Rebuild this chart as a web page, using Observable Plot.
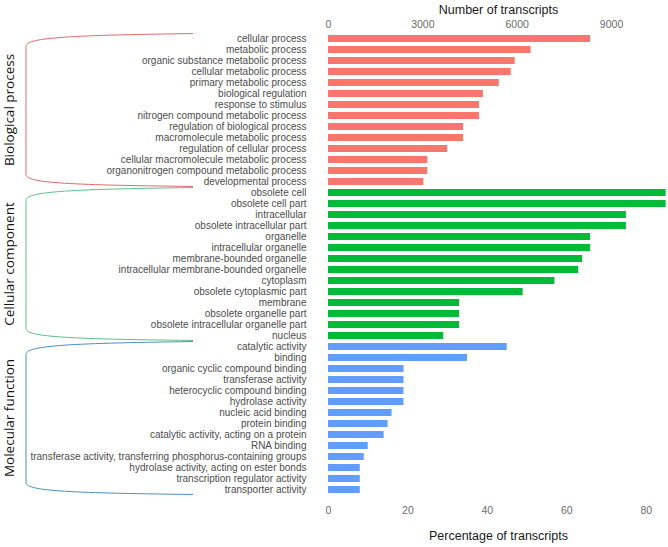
<!DOCTYPE html>
<html>
<head>
<meta charset="utf-8">
<script src="https://cdn.jsdelivr.net/npm/d3@7"></script>
<script src="https://cdn.jsdelivr.net/npm/@observablehq/plot@0.6"></script>
<style>
  html, body { margin: 0; padding: 0; background: #fff; }
</style>
</head>
<body>
<div id="chart"></div>
<script>
// ---- Data ----
const groupNames = ["Biological process", "Cellular component", "Molecular function"];
const groupColors = ["#F8766D", "#00BA38", "#619CFF"];
const bracketColors = ["#e06a6a", "#5cbf8c", "#4a8fc4"];

const bpTerms = ["cellular process", "metabolic process", "organic substance metabolic process",
  "cellular metabolic process", "primary metabolic process", "biological regulation",
  "response to stimulus", "nitrogen compound metabolic process", "regulation of biological process",
  "macromolecule metabolic process", "regulation of cellular process",
  "cellular macromolecule metabolic process", "organonitrogen compound metabolic process",
  "developmental process"];
const bpPct = [66, 51, 47, 46, 43, 39, 38, 38, 34, 34, 30, 25, 25, 24];

const ccTerms = ["obsolete cell", "obsolete cell part", "intracellular", "obsolete intracellular part",
  "organelle", "intracellular organelle", "membrane-bounded organelle",
  "intracellular membrane-bounded organelle", "cytoplasm", "obsolete cytoplasmic part",
  "membrane", "obsolete organelle part", "obsolete intracellular organelle part", "nucleus"];
const ccPct = [85, 85, 75, 75, 66, 66, 64, 63, 57, 49, 33, 33, 33, 29];

const mfTerms = ["catalytic activity", "binding", "organic cyclic compound binding",
  "transferase activity", "heterocyclic compound binding", "hydrolase activity",
  "nucleic acid binding", "protein binding", "catalytic activity, acting on a protein",
  "RNA binding", "transferase activity, transferring phosphorus-containing groups",
  "hydrolase activity, acting on ester bonds", "transcription regulator activity",
  "transporter activity"];
const mfPct = [45, 35, 19, 19, 19, 19, 16, 15, 14, 10, 9, 8, 8, 8];

const pctTicks = [0, 20, 40, 60, 80];
const countTicks = [0, 3000, 6000, 9000];
const totalTranscripts = 12630;

// ---- Build table ----
const groupTerms = [bpTerms, ccTerms, mfTerms];
const groupPct = [bpPct, ccPct, mfPct];
const data = [];
groupTerms.forEach((terms, gi) => terms.forEach((t, i) =>
  data.push({term: t, pct: groupPct[gi][i], group: groupNames[gi]})));
const categories = data.map(d => d.term);

const plot = Plot.plot({
  width: 668,
  height: 547,
  marginTop: 32,
  marginBottom: 50,
  marginLeft: 328,
  marginRight: 0,
  style: {fontFamily: "'Liberation Sans', Arial, sans-serif", fontSize: "10px", background: "#fff"},
  x: {domain: [0, 85.6]},
  y: {domain: categories, paddingInner: 0.33, paddingOuter: 0},
  color: {domain: groupNames, range: groupColors},
  marks: [
    Plot.barX(data, {x: "pct", y: "term", fill: "group"}),
    Plot.axisY({tickSize: 0, tickPadding: 22, fill: "#4d4d4d", label: null, fontSize: 10}),
    Plot.axisX({anchor: "bottom", ticks: pctTicks, tickSize: 0, tickPadding: 9,
      fill: "#6b6b6b", label: null, fontSize: 10.5}),
    Plot.axisX({anchor: "top", ticks: countTicks.map(n => n / totalTranscripts * 100),
      tickFormat: d => String(Math.round(d * totalTranscripts / 100)),
      tickSize: 0, tickPadding: 5, fill: "#6b6b6b", label: null, fontSize: 10.5}),
    Plot.text(["Number of transcripts"], {text: d => d, frameAnchor: "top", dy: -27.5,
      fontSize: 12.5, fill: "#1a1a1a"}),
    Plot.text(["Percentage of transcripts"], {text: d => d, frameAnchor: "bottom", dy: 42,
      fontSize: 12.5, fill: "#1a1a1a"})
  ]
});

document.getElementById("chart").appendChild(plot);

// ---- Group brackets and labels, positioned through the plot's y scale ----
const yS = plot.scale("y");
const bw = yS.bandwidth;
const step = yS.step;
const svg = d3.select(plot);
const xL = 26, xR = 193;
groupTerms.forEach((terms, gi) => {
  const top = yS.apply(terms[0]) + bw / 2 - 0.45 * step;
  const bot = yS.apply(terms[terms.length - 1]) + bw / 2 + 0.45 * step;
  const path = `M${xR},${top} C60,${top + 1.8} ${xL},${top + 4.5} ${xL},${top + 13}`
    + ` L${xL},${bot - 12} C${xL},${bot - 4} 60,${bot - 1.5} ${xR},${bot}`;
  svg.append("path").attr("d", path).attr("fill", "none")
    .attr("stroke", bracketColors[gi]).attr("stroke-width", 1);
  const cy = (yS.apply(terms[0]) + yS.apply(terms[terms.length - 1]) + bw) / 2;
  svg.append("text")
    .attr("transform", `translate(8.5,${cy}) rotate(-90)`)
    .attr("text-anchor", "middle")
    .attr("dominant-baseline", "central")
    .attr("font-family", "'Open Sans', sans-serif")
    .attr("font-size", 13.5)
    .attr("fill", "#111")
    .text(groupNames[gi]);
});
</script>
</body>
</html>
